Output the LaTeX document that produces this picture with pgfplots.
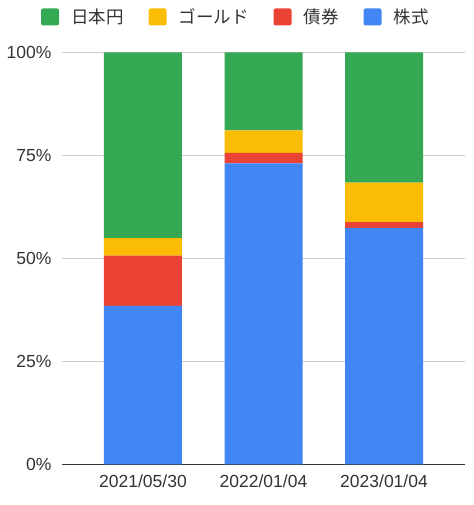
\documentclass[border=0pt]{standalone}
\usepackage{pgfplots}
\pgfplotsset{compat=1.18}
\usepackage{fontspec}
\setmainfont{Liberation Sans}
\newfontfamily\jp{Noto Sans CJK JP}
\definecolor{cgreen}{HTML}{34A853}
\definecolor{cyellow}{HTML}{FBBC04}
\definecolor{cred}{HTML}{EA4335}
\definecolor{cblue}{HTML}{4285F4}
\definecolor{cgrid}{HTML}{CCCCCC}
\definecolor{ctext}{HTML}{333333}
\begin{document}
\begin{tikzpicture}
\useasboundingbox (0,0) rectangle (473pt,505pt);
\begin{axis}[
  at={(62pt,40.7pt)}, anchor=south west,
  scale only axis, width=403pt, height=411.8pt,
  ybar stacked, bar width=78pt,
  xmin=-0.672, xmax=2.672, ymin=0, ymax=100,
  xtick={0,1,2}, xticklabels={2021/05/30,2022/01/04,2023/01/04},
  ytick={0,25,50,75,100},
  yticklabel={\pgfmathprintnumber{\tick}\%},
  /pgf/number format/assume math mode=true,
  ymajorgrids, grid style={color=cgrid, line width=1pt},
  axis x line=bottom, axis y line=left,
  axis line style={-},
  x axis line style={color=ctext, line width=1.2pt},
  y axis line style={draw=none},
  major tick length=0pt,
  tick label style={font=\fontsize{17.5}{20}\selectfont, text=ctext},
  yticklabel style={anchor=east, inner sep=0pt, xshift=-10.3pt},
  xticklabel style={anchor=north, inner sep=0pt, yshift=-10pt},
  reverse legend,
  legend columns=4,
  legend style={at={(-0.052,1.0862)}, anchor=west, draw=none, fill=none,
    inner sep=0pt, outer sep=0pt,
    font=\jp\fontsize{17.5}{20}\selectfont, text=ctext,
    nodes={inner sep=0pt},
    /tikz/every odd column/.append style={column sep=12pt},
    /tikz/every even column/.append style={column sep=25pt}},
  legimg/.style={legend image code/.code={\fill[##1, rounded corners=2pt] (0pt,-8.5pt) rectangle (18pt,8.5pt);}},
]
\addplot[fill=cblue, draw=none, legimg] coordinates {(0,38.5) (1,73.1) (2,57.4)};
\addplot[fill=cred, draw=none, legimg] coordinates {(0,12.2) (1,2.5) (2,1.4)};
\addplot[fill=cyellow, draw=none, legimg] coordinates {(0,4.2) (1,5.5) (2,9.6)};
\addplot[fill=cgreen, draw=none, legimg] coordinates {(0,45.1) (1,18.9) (2,31.6)};
\legend{株式,債券,ゴールド,日本円}
\end{axis}
\end{tikzpicture}
\end{document}
